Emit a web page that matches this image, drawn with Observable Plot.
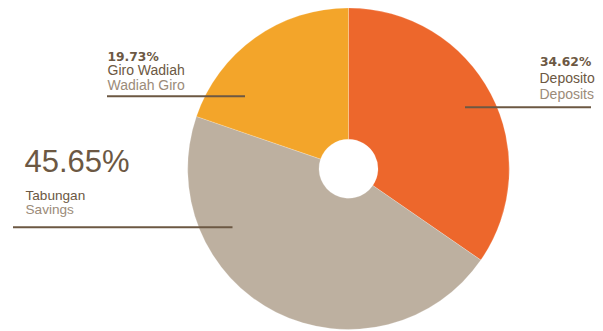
<!DOCTYPE html>
<html>
<head>
<meta charset="utf-8">
<script src="https://cdn.jsdelivr.net/npm/d3@7"></script>
<script src="https://cdn.jsdelivr.net/npm/@observablehq/plot@0.6"></script>
<style>
  html, body { margin: 0; padding: 0; background: #fff; }
  #chart svg { display: block; }
</style>
</head>
<body>
<div id="chart"></div>
<script>
// Data
const categories = ["Deposito", "Tabungan", "Giro Wadiah"];
const categoriesEn = ["Deposits", "Savings", "Wadiah Giro"];
const shares = [34.62, 45.65, 19.73];
const shareLabels = ["34.62%", "45.65%", "19.73%"];
const sliceColors = ["#ED672C", "#BDB0A0", "#F3A52A"];

const rows = categories.map((c, i) => ({cat: c, en: categoriesEn[i], share: shares[i], label: shareLabels[i]}));

const color = Plot.scale({color: {type: "ordinal", domain: categories, range: sliceColors}});

const dark = "#6C5843";
const light = "#9B8B79";

// layout (in pixel-like data units)
const W = 603, H = 331;
const center = {x: 348.5, y: 168.7};
const rOuter = 160.8, rInner = 29.5;

const pieMark = (index, scales) => {
  const cx = scales.x(center.x), cy = scales.y(center.y);
  const r = scales.x(center.x + rOuter) - cx;
  const ri = scales.x(center.x + rInner) - cx;
  const arcs = d3.pie().sort(null).value(d => d.share)(rows);
  const arc = d3.arc().innerRadius(ri).outerRadius(r);
  const g = d3.create("svg:g").attr("transform", `translate(${cx},${cy})`);
  g.selectAll("path").data(arcs).join("path")
    .attr("d", arc)
    .attr("fill", d => color.apply(d.data.cat))
    .attr("stroke", "#ffffff")
    .attr("stroke-opacity", 0.35)
    .attr("stroke-width", 0.6);
  return g.node();
};

const byCat = c => rows.filter(d => d.cat === c);

// text helper: place baseline at a given y
const label = (cat, field, x, baseline, fs, fill, extra = {}) =>
  Plot.text(byCat(cat), {
    x: () => x, y: () => baseline - 0.32 * fs, text: field,
    textAnchor: "start", lineAnchor: "middle", fontSize: fs, fill, ...extra
  });

const pctStyle = {fontWeight: "bold", fontFamily: "'DejaVu Sans', sans-serif"};

const chart = Plot.plot({
  width: W,
  height: H,
  margin: 0,
  x: {domain: [0, W], range: [0, W], axis: null},
  y: {domain: [0, H], range: [0, H], axis: null},
  style: {fontFamily: "'Liberation Sans', Arial, sans-serif", background: "#fff"},
  marks: [
    pieMark,
    // Giro Wadiah
    label("Giro Wadiah", "label", 107, 60.3, 12.3, dark, pctStyle),
    label("Giro Wadiah", "cat", 107, 74.5, 14, dark),
    label("Giro Wadiah", "en", 107, 89.5, 14, light),
    Plot.ruleY(byCat("Giro Wadiah"), {y: () => 95.7, x1: () => 107, x2: () => 245, stroke: dark, strokeWidth: 2}),
    // Deposito
    label("Deposito", "label", 539.5, 65.7, 12.3, dark, pctStyle),
    label("Deposito", "cat", 539, 82.3, 14, dark),
    label("Deposito", "en", 539, 98.3, 14, light),
    Plot.ruleY(byCat("Deposito"), {y: () => 106.7, x1: () => 465, x2: () => 591, stroke: dark, strokeWidth: 2}),
    // Tabungan
    label("Tabungan", "label", 24, 171.5, 31, dark),
    label("Tabungan", "cat", 25, 199, 13.6, dark),
    label("Tabungan", "en", 25, 213.7, 13.6, light),
    Plot.ruleY(byCat("Tabungan"), {y: () => 226.7, x1: () => 13, x2: () => 232.5, stroke: dark, strokeWidth: 2})
  ]
});

document.getElementById("chart").appendChild(chart);
</script>
</body>
</html>
